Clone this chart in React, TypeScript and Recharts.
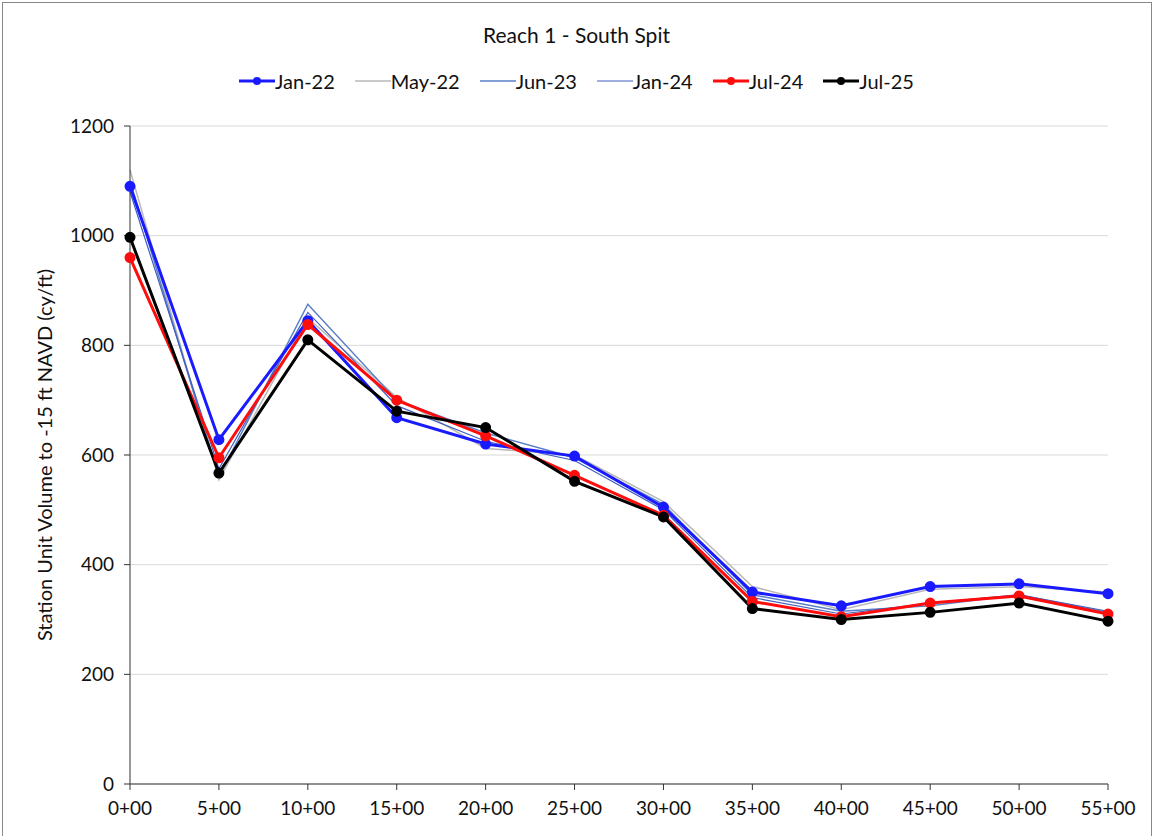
import { LineChart, Line, XAxis, YAxis, CartesianGrid } from "recharts";

const stations = [0, 5, 10, 15, 20, 25, 30, 35, 40, 45, 50, 55];
const jan22 = [1090, 628, 845, 668, 620, 598, 505, 350, 325, 360, 365, 347];
const may22 = [1120, 555, 850, 705, 612, 600, 515, 360, 318, 355, 360, 350];
const jun23 = [1100, 560, 875, 700, 640, 595, 510, 345, 315, 325, 345, 313];
const jan24 = [1080, 575, 860, 690, 625, 590, 500, 340, 310, 330, 345, 315];
const jul24 = [960, 595, 838, 700, 635, 563, 490, 333, 305, 330, 343, 310];
const jul25 = [997, 567, 810, 680, 650, 552, 487, 320, 300, 313, 330, 297];
const yTicks = [0, 200, 400, 600, 800, 1000, 1200];

const data = stations.map((s, i) => ({
  s,
  jan22: jan22[i],
  may22: may22[i],
  jun23: jun23[i],
  jan24: jan24[i],
  jul24: jul24[i],
  jul25: jul25[i],
}));

const series = [
  { key: "may22", name: "May-22", color: "#b8b8b8", w: 1.5, dot: false },
  { key: "jun23", name: "Jun-23", color: "#5b7fc7", w: 1.5, dot: false },
  { key: "jan24", name: "Jan-24", color: "#3f5fbf", w: 1.2, dot: false },
  { key: "jan22", name: "Jan-22", color: "#1a1aff", w: 3, dot: true },
  { key: "jul24", name: "Jul-24", color: "#ff0d0d", w: 3, dot: true },
  { key: "jul25", name: "Jul-25", color: "#000000", w: 3, dot: true },
];
const legendOrder = ["jan22", "may22", "jun23", "jan24", "jul24", "jul25"];

const font = "Lato, 'Open Sans', sans-serif";

export default function App() {
  return (
    <div style={{ position: "absolute", left: 0, top: 0, width: 1153, height: 836, background: "#fff", fontFamily: font }}>
      <div style={{ position: "absolute", left: 2, top: 2, width: 1148, height: 840, border: "1px solid #888" }} />
      <div style={{ position: "absolute", top: 22, width: "100%", textAlign: "center", fontSize: 21, color: "#111" }}>
        Reach 1 - South Spit
      </div>
      <div style={{ position: "absolute", top: 69, left: 0, width: "100%", display: "flex", justifyContent: "center", gap: 20, fontSize: 20, color: "#111" }}>
        {legendOrder.map((k) => {
          const s = series.find((x) => x.key === k)!;
          return (
            <span key={k} style={{ display: "flex", alignItems: "center" }}>
              <svg width={36} height={14}>
                <line x1={0} y1={7} x2={36} y2={7} stroke={s.color} strokeWidth={s.w} />
                {s.dot && <circle cx={18} cy={7} r={4} fill={s.color} />}
              </svg>
              {s.name}
            </span>
          );
        })}
      </div>
      <div style={{ position: "absolute", left: 44, top: 455, transform: "translate(-50%,-50%) rotate(-90deg)", whiteSpace: "nowrap", fontSize: 20, color: "#111" }}>
        Station Unit Volume to -15 ft NAVD (cy/ft)
      </div>
      <LineChart width={1153} height={836} data={data} margin={{ top: 126, right: 45, left: 70, bottom: 12 }}>
        <CartesianGrid horizontal vertical={false} stroke="#d9d9d9" />
        <XAxis
          dataKey="s"
          type="number"
          domain={[0, 55]}
          ticks={stations}
          tickFormatter={(v) => `${v}+00`}
          stroke="#333"
          tick={{ fill: "#111", fontSize: 19, fontFamily: font }}
          tickSize={6}
          tickMargin={12}
          height={40}
        />
        <YAxis
          domain={[0, 1200]}
          ticks={yTicks}
          stroke="#333"
          tick={{ fill: "#111", fontSize: 19, fontFamily: font }}
          tickSize={6}
          tickMargin={10}
          width={60}
        />
        {series.map((s) => (
          <Line
            key={s.key}
            dataKey={s.key}
            name={s.name}
            stroke={s.color}
            strokeWidth={s.w}
            dot={s.dot ? { r: 4, fill: s.color, stroke: s.color } : false}
            isAnimationActive={false}
          />
        ))}
      </LineChart>
    </div>
  );
}
